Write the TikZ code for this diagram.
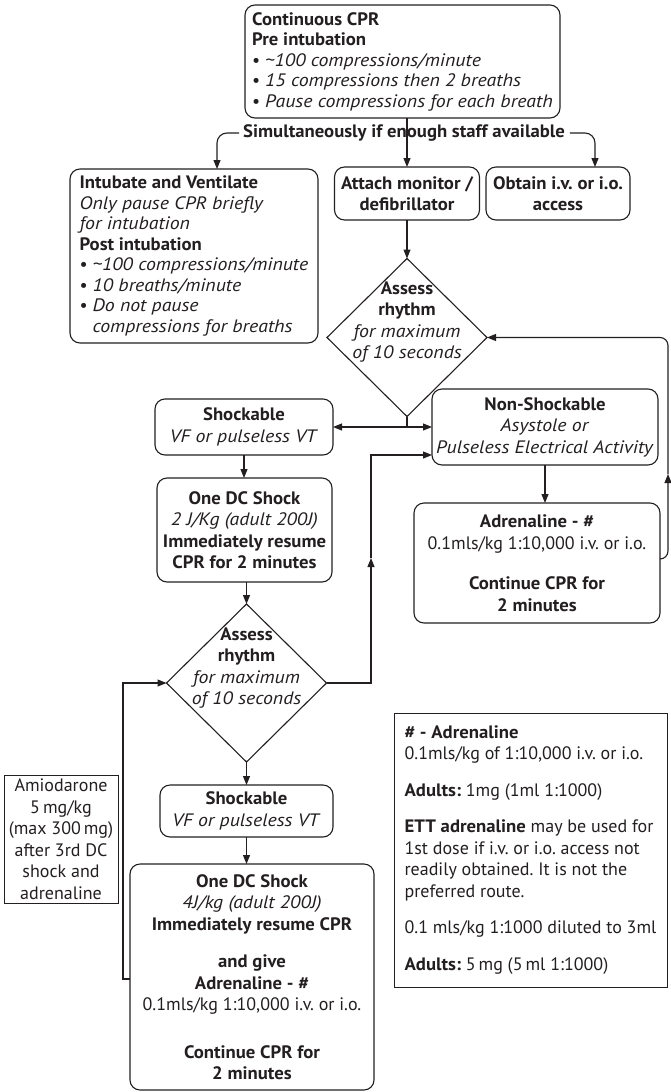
\documentclass[tikz,border=0pt]{standalone}
\usepackage{fontspec}
\setmainfont{PT Sans}[ItalicFeatures={FakeStretch=1.1},BoldFeatures={FakeStretch=1.04}]
\usetikzlibrary{arrows.meta,shapes.geometric}
\definecolor{ink}{HTML}{231F20}
\frenchspacing
\begin{document}
\begin{tikzpicture}[x=1pt,y=-1pt,
  every node/.style={font=\fontsize{18}{21.5}\selectfont, text=ink, inner sep=0pt, outer sep=0pt},
  rbox/.style={draw=ink, line width=1.1pt, rounded corners=10pt, align=center},
  lbox/.style={draw=ink, line width=1.1pt, rounded corners=10pt, align=left, font=\fontsize{18}{20.5}\selectfont},
  pbox/.style={draw=ink, line width=1pt, align=center},
  dia/.style={draw=ink, line width=1.1pt, diamond, minimum width=160pt, minimum height=158pt},
  arr/.style={draw=ink, line width=1.1pt, -{Triangle[length=9pt,width=7pt]}},
  ln/.style={draw=ink, line width=1.1pt},
]
\useasboundingbox (0,0) rectangle (670,1092);

% top box
\node[lbox, minimum width=315pt, minimum height=113pt] (cpr) at (402.5,61.5)
 {\textbf{Continuous CPR}\\
  \textbf{Pre intubation}\\
  \textbullet\ \textit{\textasciitilde100 compressions/minute}\\
  \textbullet\ \textit{15 compressions then 2 breaths}\\
  \textbullet\ \textit{Pause compressions for each breath}};

\node[font=\fontsize{18}{21.5}\selectfont\bfseries] (sim) at (404,133) {Simultaneously if enough staff available};

\node[lbox, minimum width=248pt, minimum height=174pt] (intub) at (194,256)
 {\textbf{Intubate and Ventilate}\\
  \textit{Only pause CPR briefly}\\
  \textit{for intubation}\\
  \textbf{Post intubation}\\
  \textbullet\ \textit{\textasciitilde100 compressions/minute}\\
  \textbullet\ \textit{10 breaths/minute}\\
  \textbullet\ \textit{Do not pause}\\
  \phantom{\textbullet\ }\textit{compressions for breaths}};

\node[rbox, minimum width=145pt, minimum height=53pt, font=\fontsize{18}{21.5}\selectfont\bfseries] (attach) at (407,193.5)
 {Attach monitor /\\defibrillator};
\node[rbox, minimum width=144pt, minimum height=53pt, font=\fontsize{18}{21.5}\selectfont\bfseries] (obtain) at (558,193.5)
 {Obtain i.v. or i.o.\\access};

\node[dia] (d1) at (407,337.5) {};
\node[align=center] (d1t) at (407,322) {\textbf{Assess}\\\textbf{rhythm}\\\textit{for maximum}\\\textit{of 10 seconds}};

\coordinate (j1) at (407,427);

\node[rbox, minimum width=178pt, minimum height=56pt] (shock1) at (244,427)
 {\textbf{Shockable}\\\textit{VF or pulseless VT}};
\node[rbox, minimum width=226pt, minimum height=76pt] (nons) at (545,427)
 {\textbf{Non-Shockable}\\\textit{Asystole or}\\\textit{Pulseless Electrical Activity}};

\node[rbox, minimum width=175pt, minimum height=104pt] (dc1) at (244.5,530)
 {\textbf{One DC Shock}\\\textit{2 J/Kg (adult 200J)}\\\textbf{Immediately resume}\\\textbf{CPR for 2 minutes}};

\node[rbox, minimum width=246pt, minimum height=120pt] (adr) at (537,563)
 {\textbf{Adrenaline - \#}\\0.1mls/kg 1:10,000 i.v. or i.o.\\[19pt]\textbf{Continue CPR for}\\\textbf{2 minutes}};

\node[dia] (d2) at (246.5,683) {};
\node[align=center] (d2t) at (246.5,668) {\textbf{Assess}\\\textbf{rhythm}\\\textit{for maximum}\\\textit{of 10 seconds}};

\node[rbox, minimum width=173pt, minimum height=52pt] (shock2) at (246.5,811)
 {\textbf{Shockable}\\\textit{VF or pulseless VT}};

\node[rbox, minimum width=244pt, minimum height=226pt] (big) at (252,977)
 {\textbf{One DC Shock}\\\textit{4J/kg (adult 200J)}\\\textbf{Immediately resume CPR}\\[16pt]
  \textbf{and give}\\\textbf{Adrenaline - \#}\\0.1mls/kg 1:10,000 i.v. or i.o.\\[26pt]
  \textbf{Continue CPR for}\\\textbf{2 minutes}};

\node[pbox, minimum width=114pt, minimum height=128pt] (amio) at (61,839)
 {Amiodarone\\5\,mg/kg\\(max 300\,mg)\\after 3rd DC\\shock and\\adrenaline};

\node[pbox, align=left, minimum width=273pt, minimum height=274pt] (note) at (530.5,850)
 {\textbf{\# - Adrenaline}\\
  0.1mls/kg of 1:10,000 i.v. or i.o.\\[15pt]
  \textbf{Adults:} 1mg (1ml 1:1000)\\[15pt]
  \textbf{ETT adrenaline} may be used for\\
  1st dose if i.v. or i.o. access not\\
  readily obtained. It is not the\\
  preferred route.\\[15pt]
  0.1 mls/kg 1:1000 diluted to 3ml\\[15pt]
  \textbf{Adults:} 5\,mg (5\,ml 1:1000)};

% connectors
\draw[arr] (attach.north |- cpr.south) -- (attach.north);
\draw[arr, rounded corners=10pt] ([xshift=-4pt]sim.west) -| ([xshift=23pt]intub.north);
\draw[arr, rounded corners=10pt] ([xshift=5pt]sim.east) -| ([xshift=37pt]obtain.north);
\draw[arr] (attach.south) -- (d1.north);
\draw[ln] (d1.south) -- (j1);
\draw[arr] (j1) -- (shock1.east);
\draw[arr] (j1) -- (nons.west);
\draw[arr] (shock1.south) -- (shock1.south |- dc1.north);
\draw[arr] (dc1.south -| d2.north) -- (d2.north);
\coordinate (m2) at (371,558);
\draw[arr] (d2.east) -| (m2);
\draw[arr] (m2) |- ([yshift=-28pt]nons.west);
\draw[arr] (nons.south) -- (nons.south |- adr.north);
\coordinate (m1) at (668,474);
\draw[arr, rounded corners=8pt] ([yshift=4pt]adr.east) -| (m1);
\draw[arr, rounded corners=8pt] (m1) |- (d1.east);
\draw[arr] (d2.south) -- (shock2.north);
\draw[arr] (shock2.south) -- (shock2.south |- big.north);
\draw[arr] ([yshift=-2pt]big.west) -- ++(-7,0) |- (d2.west);
\end{tikzpicture}
\end{document}
